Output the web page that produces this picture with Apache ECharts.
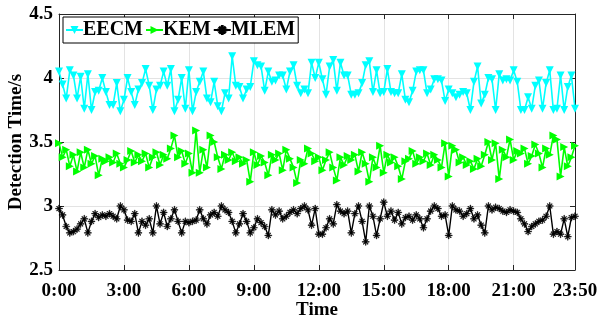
<!DOCTYPE html>
<html>
<head>
<meta charset="utf-8">
<script src="https://cdn.jsdelivr.net/npm/echarts@6/dist/echarts.min.js"></script>
<style>
  html, body { margin: 0; padding: 0; background: #fff; }
  #chart { width: 600px; height: 322px; }
</style>
</head>
<body>
<div id="chart"></div>
<script>
  // 10-minute samples over a day, 0:00 .. 23:50
  const times = [];
  for (let h = 0; h < 24; h++) {
    for (let m = 0; m < 60; m += 10) {
      times.push(h + ':' + (m === 0 ? '00' : m));
    }
  }

  const eecm = [
    4.05, 3.95, 3.84, 4.06, 4.02, 3.84, 4.01, 3.76, 4.03, 3.75, 3.89, 3.90,
    4.00, 3.89, 3.79, 3.79, 3.96, 3.74, 3.83, 4.00, 3.89, 3.79, 3.91, 3.96,
    4.07, 3.94, 3.75, 3.91, 3.94, 4.05, 3.94, 4.07, 3.74, 3.83, 4.00, 3.76,
    4.06, 3.74, 3.89, 3.97, 4.05, 3.84, 3.81, 3.97, 3.78, 3.74, 3.88, 3.84,
    4.17, 3.94, 3.93, 3.84, 3.91, 3.93, 4.13, 4.10, 4.09, 3.90, 4.05, 3.97,
    3.98, 4.02, 4.02, 3.91, 4.05, 4.10, 3.94, 3.88, 3.91, 3.88, 4.12, 4.00,
    4.12, 3.99, 3.87, 4.09, 4.14, 3.90, 4.12, 4.02, 4.02, 3.87, 3.87, 3.88,
    3.96, 4.10, 4.13, 3.89, 4.06, 3.88, 3.89, 4.07, 3.89, 3.88, 3.88, 4.03,
    3.83, 3.81, 3.90, 4.05, 4.06, 4.06, 3.88, 3.91, 3.99, 3.99, 3.98, 3.82,
    3.91, 3.88, 3.85, 3.87, 3.89, 3.88, 3.75, 3.97, 4.09, 3.80, 3.87, 4.00,
    3.99, 3.75, 4.03, 3.98, 3.99, 3.98, 4.06, 3.97, 3.75, 3.75, 3.85, 3.76,
    3.94, 3.98, 3.76, 3.96, 4.06, 3.75, 3.76, 4.02, 3.75, 3.93, 4.02, 3.76
  ];

  const kem = [
    3.49, 3.38, 3.44, 3.31, 3.40, 3.27, 3.42, 3.30, 3.44, 3.33, 3.39, 3.24,
    3.37, 3.35, 3.38, 3.34, 3.41, 3.33, 3.30, 3.36, 3.43, 3.34, 3.40, 3.35,
    3.41, 3.30, 3.38, 3.42, 3.32, 3.40, 3.37, 3.45, 3.55, 3.38, 3.43, 3.33,
    3.41, 3.26, 3.59, 3.26, 3.44, 3.30, 3.55, 3.50, 3.38, 3.29, 3.40, 3.36,
    3.42, 3.35, 3.38, 3.33, 3.36, 3.19, 3.42, 3.32, 3.39, 3.34, 3.24, 3.40,
    3.36, 3.41, 3.28, 3.44, 3.37, 3.30, 3.18, 3.36, 3.33, 3.45, 3.41, 3.35,
    3.38, 3.28, 3.36, 3.42, 3.30, 3.20, 3.38, 3.32, 3.39, 3.36, 3.40, 3.27,
    3.42, 3.33, 3.19, 3.38, 3.30, 3.47, 3.26, 3.40, 3.34, 3.38, 3.31, 3.21,
    3.35, 3.37, 3.43, 3.33, 3.38, 3.35, 3.41, 3.32, 3.40, 3.36, 3.30, 3.49,
    3.23, 3.47, 3.44, 3.34, 3.38, 3.32, 3.35, 3.29, 3.37, 3.31, 3.40, 3.50,
    3.36, 3.49, 3.21, 3.44, 3.38, 3.52, 3.36, 3.43, 3.41, 3.45, 3.33, 3.39,
    3.48, 3.41, 3.30, 3.45, 3.40, 3.55, 3.52, 3.23, 3.46, 3.31, 3.38, 3.47
  ];

  const mlem = [
    2.98, 2.93, 2.84, 2.79, 2.80, 2.82, 2.86, 2.90, 2.79, 2.88, 2.94, 2.91,
    2.93, 2.92, 2.94, 2.92, 2.90, 3.00, 2.97, 2.89, 2.88, 2.94, 2.79, 2.88,
    2.85, 2.90, 2.79, 3.00, 2.86, 2.95, 2.84, 2.90, 2.97, 2.88, 2.79, 2.88,
    2.87, 2.88, 2.89, 2.97, 2.90, 2.86, 2.93, 2.95, 2.92, 3.00, 2.97, 2.95,
    2.88, 2.79, 2.86, 2.94, 2.88, 2.79, 2.83, 2.90, 2.87, 2.84, 2.77, 2.97,
    2.93, 2.96, 2.90, 2.92, 2.95, 2.97, 2.94, 2.98, 3.00, 2.97, 2.85, 2.98,
    2.78, 2.78, 2.83, 2.90, 2.86, 3.01, 2.96, 2.94, 2.96, 2.79, 2.94, 3.00,
    2.88, 2.72, 3.00, 2.92, 2.77, 2.90, 3.03, 2.92, 2.96, 2.89, 2.95, 2.86,
    2.91, 2.92, 2.89, 2.93, 2.90, 2.83, 2.90, 2.96, 3.00, 2.98, 2.92, 2.93,
    2.77, 3.00, 2.97, 2.96, 2.92, 2.94, 2.98, 2.90, 2.93, 2.85, 2.79, 3.00,
    2.97, 2.99, 2.98, 2.96, 2.95, 2.97, 2.96, 2.95, 2.90, 2.86, 2.80, 2.84,
    2.86, 2.88, 2.89, 2.92, 3.00, 2.78, 2.80, 2.78, 2.90, 2.76, 2.91, 2.92
  ];

  const yTicks = [2.5, 3, 3.5, 4, 4.5];
  const xStep = 18; // a label every 3 hours

  const font = '"Liberation Serif", "Times New Roman", serif';
  const axisColor = '#262626';
  const star = 'path://M4.5,0h1v10h-1z M0,4.5h10v1h-10z M1.3,2L2,1.3L8.7,8L8,8.7z M8,1.3L8.7,2L2,8.7L1.3,8z';

  const showAt = (idx) => idx % xStep === 0 || idx === times.length - 1;

  var chart = echarts.init(document.getElementById('chart'));
  var option = {
    animation: false,
    grid: { left: 59, right: 25, top: 14, bottom: 52, outerBoundsMode: 'none', containLabel: false },
    legend: {
      left: 63,
      top: 17,
      padding: [3, 3, 3, 2],
      itemGap: 2,
      itemWidth: 17,
      itemHeight: 10,
      borderColor: '#000',
      borderWidth: 1,
      backgroundColor: '#fff',
      textStyle: { fontFamily: font, fontWeight: 'bold', fontSize: 20, color: '#000', padding: [2, 0, 0, -5] },
      data: ['EECM', 'KEM', 'MLEM']
    },
    xAxis: [{
      type: 'category',
      data: times,
      boundaryGap: false,
      name: 'Time',
      nameLocation: 'middle',
      nameGap: 31,
      nameMoveOverlap: false,
      nameTextStyle: { fontFamily: font, fontWeight: 'bold', fontSize: 19, color: '#000' },
      axisLine: { lineStyle: { color: axisColor, width: 1 } },
      axisTick: { inside: true, length: 5, interval: showAt, lineStyle: { color: axisColor } },
      axisLabel: { interval: showAt, margin: 12, fontFamily: font, fontWeight: 'bold', fontSize: 19, color: '#000' },
      splitLine: { show: true, interval: showAt, lineStyle: { color: '#e3e3e3' } }
    }, {
      type: 'category',
      data: times,
      boundaryGap: false,
      position: 'top',
      axisLine: { lineStyle: { color: axisColor, width: 1 } },
      axisTick: { inside: true, length: 5, interval: showAt, lineStyle: { color: axisColor } },
      axisLabel: { show: false },
      splitLine: { show: false }
    }],
    yAxis: [{
      type: 'value',
      min: yTicks[0],
      max: yTicks[yTicks.length - 1],
      interval: 0.5,
      name: 'Detection Time/s',
      nameLocation: 'middle',
      nameGap: 33,
      nameMoveOverlap: false,
      nameTextStyle: { fontFamily: font, fontWeight: 'bold', fontSize: 19, color: '#000' },
      axisLine: { show: true, lineStyle: { color: axisColor, width: 1 } },
      axisTick: { show: true, inside: true, length: 5, lineStyle: { color: axisColor } },
      axisLabel: { margin: 6, fontFamily: font, fontWeight: 'bold', fontSize: 19, color: '#000' },
      splitLine: { show: true, lineStyle: { color: '#e3e3e3' } }
    }, {
      type: 'value',
      min: yTicks[0],
      max: yTicks[yTicks.length - 1],
      interval: 0.5,
      position: 'right',
      axisLine: { show: true, lineStyle: { color: axisColor, width: 1 } },
      axisTick: { show: true, inside: true, length: 5, lineStyle: { color: axisColor } },
      axisLabel: { show: false },
      splitLine: { show: false }
    }],
    series: [{
      name: 'EECM',
      type: 'line',
      data: eecm,
      symbol: 'triangle',
      symbolRotate: 180,
      symbolSize: 8,
      showAllSymbol: true,
      lineStyle: { color: '#00ffff', width: 1.6 },
      itemStyle: { color: '#00ffff' }
    }, {
      name: 'KEM',
      type: 'line',
      data: kem,
      symbol: 'triangle',
      symbolRotate: -90,
      symbolSize: 8,
      showAllSymbol: true,
      lineStyle: { color: '#00ff00', width: 1.6 },
      itemStyle: { color: '#00ff00' }
    }, {
      name: 'MLEM',
      type: 'line',
      data: mlem,
      symbol: star,
      symbolSize: 7,
      showAllSymbol: true,
      lineStyle: { color: '#000', width: 1.4 },
      itemStyle: { color: '#000', borderColor: '#000', borderWidth: 0.5 }
    }]
  };
  chart.setOption(option);
</script>
</body>
</html>
